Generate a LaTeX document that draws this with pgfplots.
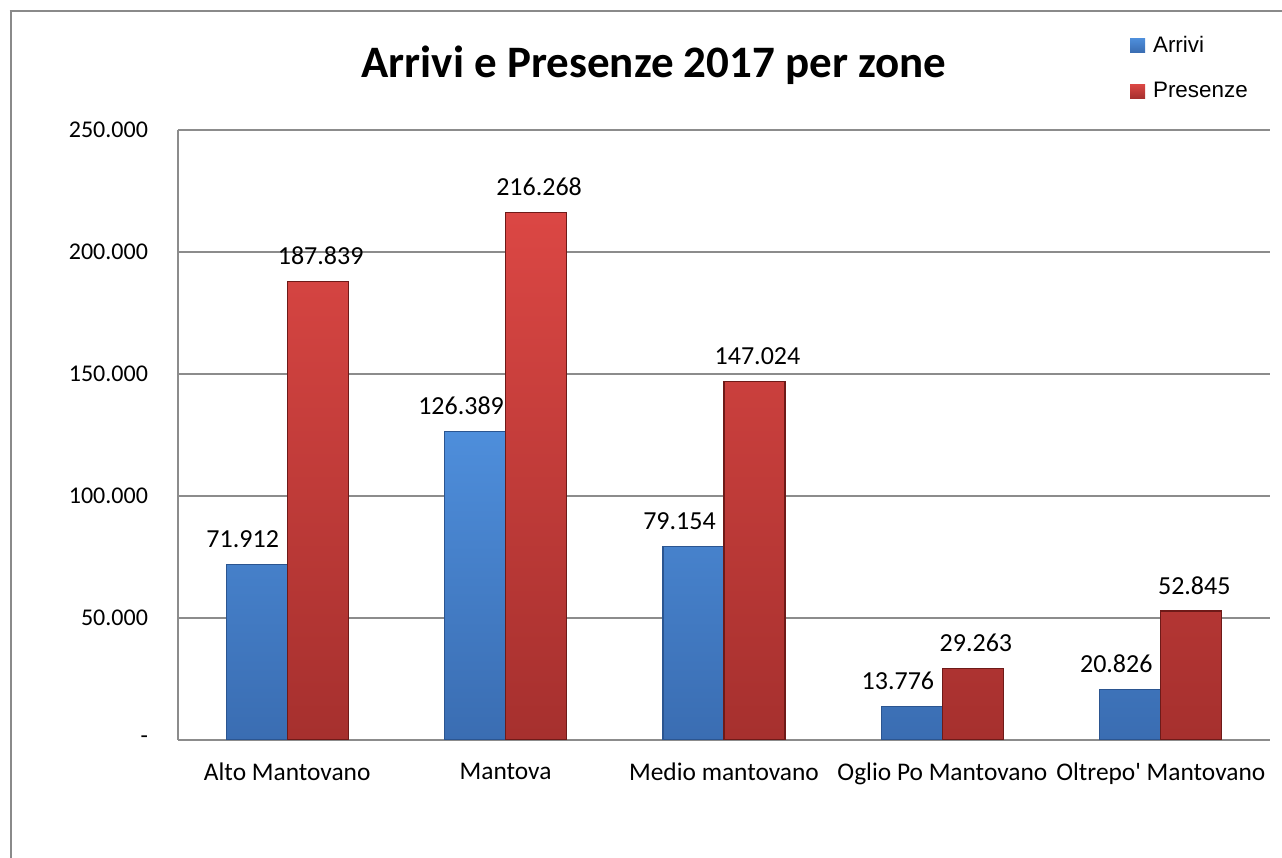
\documentclass[border=0pt]{standalone}
\usepackage{fontspec}
\setmainfont{Carlito}
\newfontfamily\arialfont{Liberation Sans}
\usepackage{pgfplots}
\pgfplotsset{compat=1.18}
\definecolor{bluetop}{HTML}{4E8EDB}
\definecolor{bluebot}{HTML}{3A6DB2}
\definecolor{blueedge}{HTML}{2B5590}
\definecolor{redtop}{HTML}{DB4744}
\definecolor{redbot}{HTML}{A6302E}
\definecolor{rededge}{HTML}{6E1A18}
\definecolor{gridgray}{HTML}{8C8C8C}
\definecolor{framegray}{HTML}{8A8A8A}
\begin{document}
\begin{tikzpicture}
\useasboundingbox (0pt,0pt) rectangle (641pt,429pt);
\draw[framegray, line width=1.3pt] (5.5pt,0pt) -- (5.5pt,423.5pt);
\draw[framegray, line width=1.3pt] (4.85pt,423.5pt) -- (641pt,423.5pt);
\begin{axis}[
  at={(89pt,59pt)}, anchor=south west,
  scale only axis, width=546pt, height=305pt,
  xmin=-0.5, xmax=4.5, ymin=0, ymax=250000,
  xtick={0,1,2,3,4},
  xticklabels={Alto Mantovano, Mantova, Medio mantovano, Oglio Po Mantovano, Oltrepo\textquotesingle{} Mantovano},
  ytick={0,50000,100000,150000,200000,250000},
  yticklabels={-, 50.000, 100.000, 150.000, 200.000, 250.000},
  scaled y ticks=false,
  ymajorgrids, grid style={gridgray, line width=0.6pt},
  axis x line*=bottom, axis y line*=left,
  axis line style={gridgray, line width=0.8pt, -},
  major tick length=0pt,
  yticklabel style={font=\fontsize{12}{14}\selectfont, xshift=-11.5pt},
  xticklabel style={font=\fontsize{12.7}{15}\selectfont, yshift=-8pt},
  title={\bfseries Arrivi e Presenze 2017 per zone},
  title style={at={(0.436,1.0865)}, anchor=center, font=\fontsize{22.5}{26}\selectfont},
  ybar=0pt, bar width=30.5pt,
  nodes near coords={\pgfmathprintnumber[fixed,precision=0,1000 sep={.},assume math mode=true]{\pgfplotspointmeta}},
  every node near coord/.append style={font=\fontsize{13}{15}\selectfont, text=black, anchor=south, yshift=4.7pt},
  legend image code/.code={\path[#1, draw=none] (0pt,-3.5pt) rectangle (7.5pt,3.5pt);},
  legend style={at={(0.8715,1.160)}, anchor=north west, draw=none, fill=none,
    font=\arialfont\fontsize{11.2}{13}\selectfont, row sep=10.5pt,
    inner sep=0pt, nodes={inner sep=1.5pt},
    /tikz/every odd column/.append style={column sep=2.5pt}},
  legend cell align=left,
]
\addplot[top color=bluetop, bottom color=bluebot, draw=blueedge, line width=0.6pt,
  every node near coord/.append style={xshift=-7pt}]
  coordinates {(0,71912) (1,126389) (2,79154) (3,13776) (4,20826)};
\addplot[top color=redtop, bottom color=redbot, draw=rededge, line width=0.6pt,
  every node near coord/.append style={xshift=1.5pt}]
  coordinates {(0,187839) (1,216268) (2,147024) (3,29263) (4,52845)};
\legend{Arrivi, Presenze}
\end{axis}
\end{tikzpicture}
\end{document}
